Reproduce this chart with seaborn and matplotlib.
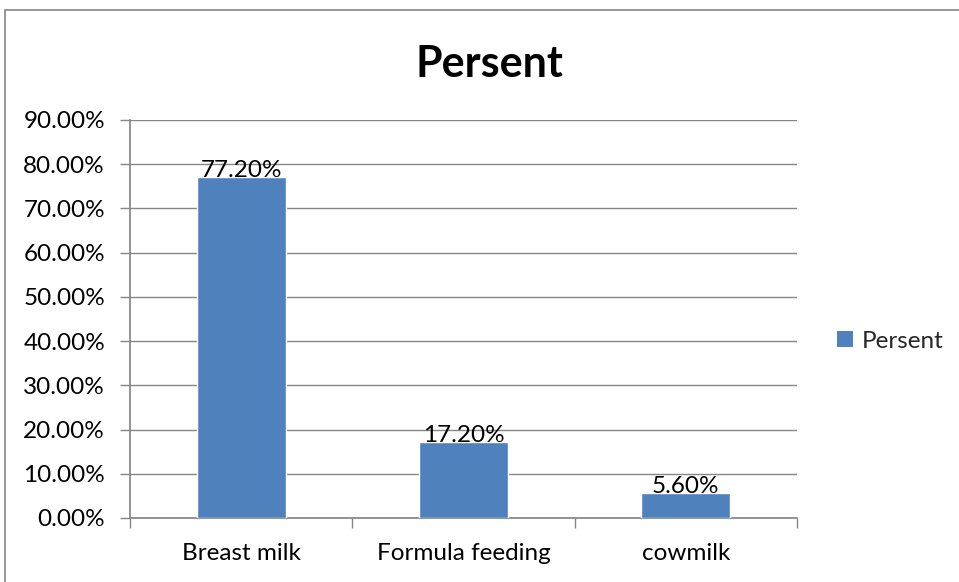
import matplotlib
matplotlib.use("Agg")
import matplotlib.pyplot as plt
from matplotlib.patches import Rectangle, Patch
import seaborn as sns
import pandas as pd

categories = ["Breast milk", "Formula feeding", "cowmilk"]
values = [0.772, 0.172, 0.056]
value_labels = ["77.20%", "17.20%", "5.60%"]
yticks = [0.0, 0.1, 0.2, 0.3, 0.4, 0.5, 0.6, 0.7, 0.8, 0.9]
series_name = "Persent"

sns.set_theme(style="white")
plt.rcParams["font.family"] = ["Lato", "DejaVu Sans"]

bar_color = "#4F81BD"
grid_color = "#868686"
fs = 17.5

fig = plt.figure(figsize=(9.59, 5.82), dpi=100)
ax = fig.add_axes([130 / 959, 1 - 518 / 582, (797 - 130) / 959, (518 - 120) / 582])

df = pd.DataFrame({"category": categories, "value": values})
sns.barplot(data=df, x="category", y="value", color=bar_color, width=0.4,
            saturation=1, ax=ax, zorder=3)

ax.set_ylim(0, 0.9)
ax.set_xlim(-0.5, 2.5)
ax.set_yticks(yticks)
ax.set_yticklabels([f"{t * 100:.2f}%" for t in yticks], fontsize=fs)
ax.set_xticks([0, 1, 2])
ax.set_xticklabels(categories, fontsize=fs)
ax.set_xlabel("")
ax.set_ylabel("")

# gridlines and axis lines
ax.yaxis.grid(True, color=grid_color, linewidth=1, zorder=0)
ax.set_axisbelow(True)
for side in ("top", "right"):
    ax.spines[side].set_visible(False)
ax.spines["left"].set_color(grid_color)
ax.spines["bottom"].set_color(grid_color)
ax.tick_params(axis="y", which="major", left=True, length=7, color=grid_color,
               width=1, pad=11, labelcolor="black")
ax.tick_params(axis="x", which="major", bottom=False, pad=12, labelcolor="black")
# x ticks between categories
ax.set_xticks([-0.5, 0.5, 1.5, 2.5], minor=True)
ax.tick_params(axis="x", which="minor", bottom=True, length=7, color=grid_color, width=1)

for i, (v, lab) in enumerate(zip(values, value_labels)):
    ax.text(i, v, lab, ha="center", va="baseline", fontsize=fs,
            color="black", zorder=4)

fig.text(489 / 959, 1 - 64 / 582, series_name, ha="center", va="center",
         fontsize=31, fontweight="bold", color="black")

fig.legend(handles=[Patch(facecolor=bar_color, edgecolor="none", label=series_name)],
           loc="center left", bbox_to_anchor=(837 / 959, 1 - 341 / 582),
           frameon=False, fontsize=fs, handlelength=0.65, handleheight=0.65,
           handletextpad=0.35, borderpad=0, borderaxespad=0)

# chart frame
fig.patches.append(Rectangle((5 / 959, -0.05), 1.0, 1 - 10 / 582 + 0.05,
                             transform=fig.transFigure, fill=False,
                             edgecolor=grid_color, linewidth=1.2))

fig.savefig("out.png", dpi=100, facecolor="white")
